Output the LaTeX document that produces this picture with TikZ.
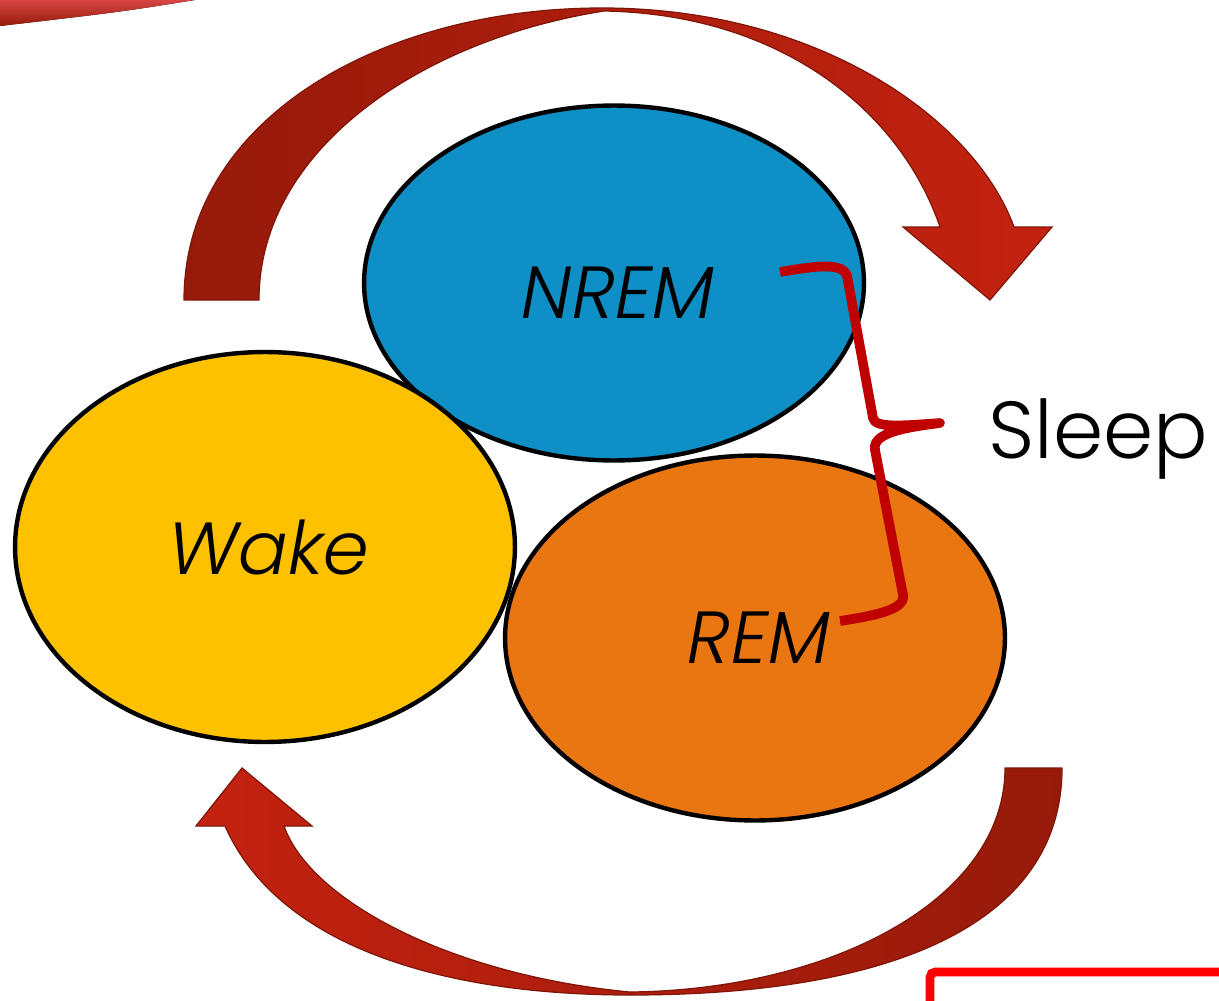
\documentclass[tikz,border=0pt]{standalone}
\usepackage{fontspec}
\setmainfont{Poppins Light}
\newfontfamily\phasefont{Poppins Light}[FakeSlant=0.18]
\usetikzlibrary{shapes.geometric}
\definecolor{nremblue}{HTML}{0E8FC6}
\definecolor{wakegold}{HTML}{FDC100}
\definecolor{remorange}{HTML}{EA7612}
\definecolor{arrowdark}{HTML}{961A0A}
\definecolor{arrowred}{HTML}{C42210}
\definecolor{bracered}{HTML}{C00000}
\definecolor{framered}{HTML}{FF0000}
\definecolor{streaklight}{HTML}{D84545}
\tikzstyle{phase} = [ellipse, draw=black, line width=2.5pt, minimum width=10cm, inner sep=0pt, font=\phasefont\fontsize{42}{48}\selectfont]
\tikzstyle{cyclearrow} = [draw=arrowdark!85!black, line width=0.7pt, line join=miter]
\tikzstyle{brace} = [draw=bracered, line width=5.5pt, line join=round]

\begin{document}
\begin{tikzpicture}[x=0.02cm, y=-0.02cm]
    \useasboundingbox (0,0) rectangle (1219,1000);
    \clip (0,0) rectangle (1219,1000);

    % Slide decoration
    \fill[top color=streaklight, bottom color=arrowdark] (0,0) -- (195,0) .. controls (120,12) .. (0,26) -- cycle;
    \draw[draw=framered, line width=5pt, rounded corners=3pt] (930,1010) -- (930,972) -- (1230,972);

    % Cycle arrows
    \path[cyclearrow, left color=arrowdark, right color=arrowred]
        (184,300) .. controls (184,120) and (380,8) .. (602,8)
        .. controls (820,8) and (975,120) .. (1014,227)
        -- (1052,227) -- (990,300) -- (903,227) -- (940,227)
        .. controls (900,110) and (780,14) .. (604,11)
        .. controls (420,40) and (259,150) .. (259,300) -- cycle;
    \path[cyclearrow, left color=arrowred, right color=arrowdark]
        (1005,768) -- (1062,768)
        .. controls (1062,920) and (900,995) .. (630,995)
        .. controls (450,995) and (280,950) .. (225,826)
        -- (196,826) -- (242,768) -- (312,826) -- (284,826)
        .. controls (310,900) and (450,975) .. (630,992)
        .. controls (830,990) and (1005,900) .. (1005,768) -- cycle;

    % Phases
    \node[phase, fill=nremblue, minimum height=7.1cm, text height=40pt] (nrem) at (614,283) {NREM};
    \node[phase, fill=remorange, minimum height=7.3cm] (rem) at (755,638) {REM};
    \node[phase, fill=wakegold, minimum height=7.8cm] (wake) at (265,547) {Wake};

    % Sleep brace
    \draw[brace] (780,272) .. controls (815,266) and (843,262) .. (847,276) -- (873,418)
        .. controls (875,428) and (900,426) .. (940,423)
        .. controls (900,428) and (872,434) .. (875,450) -- (903,595)
        .. controls (906,610) and (872,616) .. (840,621);
    \node[anchor=base west, inner sep=0pt, font=\fontsize{46}{52}\selectfont] (sleep) at (988,458) {Sleep};
\end{tikzpicture}
\end{document}
